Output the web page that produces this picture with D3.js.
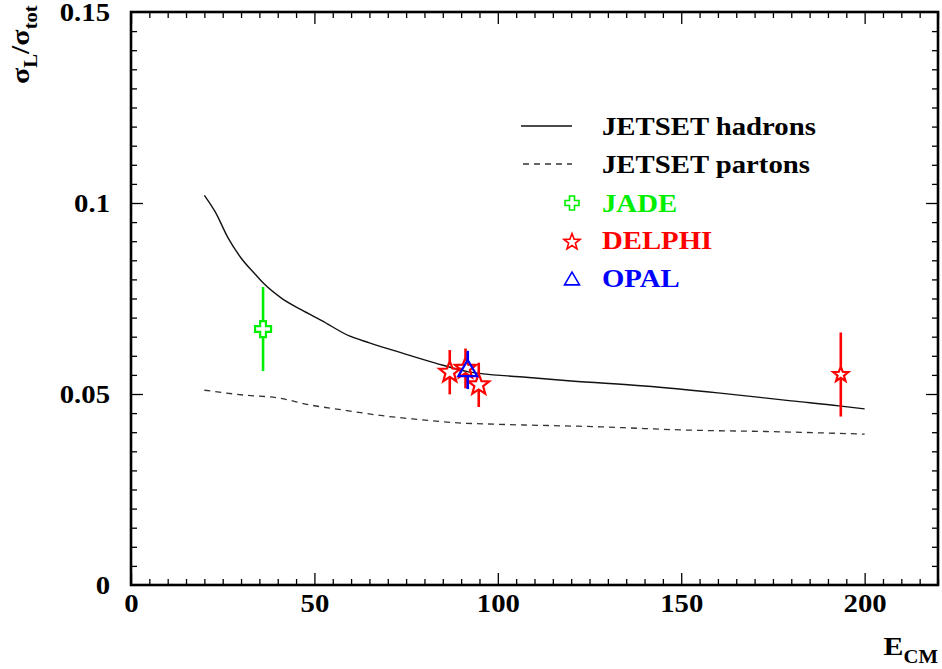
<!DOCTYPE html>
<html><head><meta charset="utf-8">
<script src="https://cdn.jsdelivr.net/npm/d3@7"></script>
<style>body{margin:0;background:#fff}svg{display:block}text{font-family:"Liberation Serif","Times New Roman",Times,serif}</style>
</head><body><svg id="c" width="942" height="669"></svg>
<script>
// ---- data ----
const xTicksMajor = [0, 50, 100, 150, 200];
const yTicksMajor = [0, 0.05, 0.1, 0.15];
const hadronE = [20, 23, 26.5, 30, 34, 36, 41, 46.5, 52, 59.5, 65, 74, 83, 92, 106, 120, 140, 160, 180, 193, 200];
const hadronV = [0.102, 0.0976, 0.0908, 0.0856, 0.0812, 0.0791, 0.0751, 0.072, 0.0692, 0.0652, 0.0634, 0.0607, 0.0581, 0.0558, 0.0545, 0.0534, 0.0521, 0.0503, 0.0482, 0.0469, 0.0461];
const partonE = [20, 31, 40, 49, 58, 67, 76.5, 90, 99, 128, 150, 177, 200];
const partonV = [0.0510, 0.0497, 0.0490, 0.0471, 0.0458, 0.0445, 0.0435, 0.0424, 0.0421, 0.0414, 0.0406, 0.0401, 0.0395];
const jadeE = [36.0], jadeV = [0.067], jadeErr = [0.011];
const delphiE = [86.9, 91.2, 94.8, 193.5], delphiV = [0.0557, 0.0567, 0.0524, 0.0551], delphiErr = [0.0058, 0.0052, 0.0058, 0.011];
const opalE = [91.8], opalV = [0.0563], opalErr = [0.005];
const legendLabels = ["JETSET hadrons", "JETSET partons", "JADE", "DELPHI", "OPAL"];

// ---- setup ----
const svg = d3.select("#c");
const L = 131, R = 938, T = 12, B = 585;
const x = d3.scaleLinear().domain([0, 220]).range([L, R]);
const y = d3.scaleLinear().domain([0, 0.15]).range([B, T]);
const SX = 1.15;
const FONT = "Liberation Serif";
const GREEN = "#00ee00", RED = "#ff0000", BLUE = "#0000ff";

// ticks
const xMinor = d3.range(0, 221, 5).filter(v => v % 50 !== 0);
const yMinor = d3.range(0, 0.1501, 0.005).filter(v => Math.abs(v / 0.05 - Math.round(v / 0.05)) > 1e-6);
function tickGroup(axisFn, scale, vals, size, transform) {
  const g = svg.append("g").attr("transform", transform)
    .call(axisFn(scale).tickValues(vals).tickSize(-size).tickSizeOuter(0).tickFormat(""));
  g.select(".domain").remove();
  g.selectAll(".tick line").attr("stroke", "#000").attr("stroke-width", 1.3);
  return g;
}
tickGroup(d3.axisBottom, x, xMinor, 6, `translate(0,${B})`);
tickGroup(d3.axisBottom, x, xTicksMajor, 12, `translate(0,${B})`);
tickGroup(d3.axisTop, x, xMinor, 6, `translate(0,${T})`);
tickGroup(d3.axisTop, x, xTicksMajor, 12, `translate(0,${T})`);
tickGroup(d3.axisLeft, y, yMinor, 6, `translate(${L},0)`);
tickGroup(d3.axisLeft, y, yTicksMajor.slice(1, 3), 12, `translate(${L},0)`);
tickGroup(d3.axisRight, y, yMinor, 6, `translate(${R},0)`);
tickGroup(d3.axisRight, y, yTicksMajor.slice(1, 3), 12, `translate(${R},0)`);

// labels via axes
const fmt = d => String(+(+d).toFixed(2));
const gx = svg.append("g").attr("transform", `translate(0,${B})`)
  .call(d3.axisBottom(x).tickValues(xTicksMajor).tickSize(0).tickPadding(9).tickFormat(fmt));
gx.select(".domain").remove();
gx.selectAll("text").style("font-family", FONT).attr("font-weight", "bold").attr("font-size", 25)
  .attr("fill", "#000").attr("transform", `scale(${SX},1)`);
const gy = svg.append("g").attr("transform", `translate(${L},0)`)
  .call(d3.axisLeft(y).tickValues(yTicksMajor).tickSize(0).tickPadding(21).tickFormat(fmt));
gy.select(".domain").remove();
gy.selectAll("text").style("font-family", FONT).attr("font-weight", "bold").attr("font-size", 25)
  .attr("fill", "#000").attr("x", -21 / SX).attr("transform", `scale(${SX},1)`);

// frame
svg.append("rect").attr("x", L).attr("y", T).attr("width", R - L).attr("height", B - T)
  .attr("fill", "none").attr("stroke", "#000").attr("stroke-width", 2.6);

// curves
const line = d3.line().x(d => x(d[0])).y(d => y(d[1])).curve(d3.curveMonotoneX);
svg.append("path").attr("d", line(d3.zip(hadronE, hadronV)))
  .attr("fill", "none").attr("stroke", "#111").attr("stroke-width", 1.4);
svg.append("path").attr("d", line(d3.zip(partonE, partonV)))
  .attr("fill", "none").attr("stroke", "#333").attr("stroke-width", 1.3).attr("stroke-dasharray", "6,5");

// marker shapes
function starPath(Rr) {
  const r = Rr * 0.42, pts = [];
  for (let i = 0; i < 10; i++) {
    const a = -Math.PI / 2 + i * Math.PI / 5, rr = i % 2 ? r : Rr;
    pts.push([rr * Math.cos(a), rr * Math.sin(a)]);
  }
  return "M" + pts.map(p => p.join(",")).join("L") + "Z";
}
function crossPath(s) { // open plus
  const a = s, b = s * 0.36;
  return `M${-b},${-a}L${b},${-a}L${b},${-b}L${a},${-b}L${a},${b}L${b},${b}L${b},${a}L${-b},${a}L${-b},${b}L${-a},${b}L${-a},${-b}L${-b},${-b}Z`;
}
function triPath(s) {
  return `M0,${-s * 1.05}L${s},${s * 0.65}L${-s},${s * 0.65}Z`;
}

// points with errors (bars stop at the marker outline)
function drawSeries(E, V, Err, color, pathFn, sizes, gapTop, gapBot) {
  const g = svg.append("g");
  E.forEach((e, i) => {
    const cx = x(e), cy = y(V[i]), s = sizes[i];
    g.append("line").attr("x1", cx).attr("x2", cx).attr("y1", y(V[i] + Err[i])).attr("y2", cy - s * gapTop)
      .attr("stroke", color).attr("stroke-width", 2.6);
    g.append("line").attr("x1", cx).attr("x2", cx).attr("y1", cy + s * gapBot).attr("y2", y(V[i] - Err[i]))
      .attr("stroke", color).attr("stroke-width", 2.6);
    g.append("path").attr("d", pathFn(s)).attr("transform", `translate(${cx},${cy})`)
      .attr("fill", "none").attr("stroke", color).attr("stroke-width", 2.2).attr("stroke-linejoin", "miter");
  });
}
drawSeries(jadeE, jadeV, jadeErr, GREEN, crossPath, [8], 1, 1);
drawSeries(delphiE, delphiV, delphiErr, RED, starPath, [11, 11, 11, 8], 1, 0.5);
drawSeries(opalE, opalV, opalErr, BLUE, triPath, [9.5], 1.05, 0.65);

// legend
const legX = 602, baselines = [135, 173, 212, 249, 287], colors = ["#000", "#000", GREEN, RED, BLUE];
svg.append("line").attr("x1", 521).attr("x2", 572).attr("y1", 126).attr("y2", 126).attr("stroke", "#111").attr("stroke-width", 1.4);
svg.append("line").attr("x1", 523).attr("x2", 572).attr("y1", 164).attr("y2", 164).attr("stroke", "#333").attr("stroke-width", 1.3).attr("stroke-dasharray", "6,5");
svg.append("path").attr("d", crossPath(7)).attr("transform", "translate(572,203)").attr("fill", "none").attr("stroke", GREEN).attr("stroke-width", 1.6);
svg.append("path").attr("d", starPath(8.5)).attr("transform", "translate(572,242)").attr("fill", "none").attr("stroke", RED).attr("stroke-width", 1.6);
svg.append("path").attr("d", triPath(7.5)).attr("transform", "translate(572,280)").attr("fill", "none").attr("stroke", BLUE).attr("stroke-width", 1.6);
legendLabels.forEach((t, i) => {
  svg.append("text").attr("transform", `translate(${legX},${baselines[i]}) scale(${SX},1)`)
    .style("font-family", FONT).attr("font-weight", "bold").attr("font-size", 25).attr("fill", colors[i]).text(t);
});

// axis titles
const xt = svg.append("text").attr("transform", `translate(938,655) scale(${SX},1)`).attr("text-anchor", "end")
  .style("font-family", FONT).attr("font-weight", "bold").attr("font-size", 26).attr("fill", "#000");
xt.append("tspan").text("E");
xt.append("tspan").attr("font-size", 18).attr("dy", 8).text("CM");

const yt = svg.append("text").attr("transform", `translate(29,84) rotate(-90) scale(${SX},1)`)
  .style("font-family", FONT).attr("font-weight", "bold").attr("font-size", 26).attr("fill", "#000");
yt.append("tspan").text("σ");
yt.append("tspan").attr("font-size", 18).attr("dy", 8).text("L");
yt.append("tspan").attr("dy", -8).text("/σ");
yt.append("tspan").attr("font-size", 18).attr("dy", 8).text("tot");
</script></body></html>
